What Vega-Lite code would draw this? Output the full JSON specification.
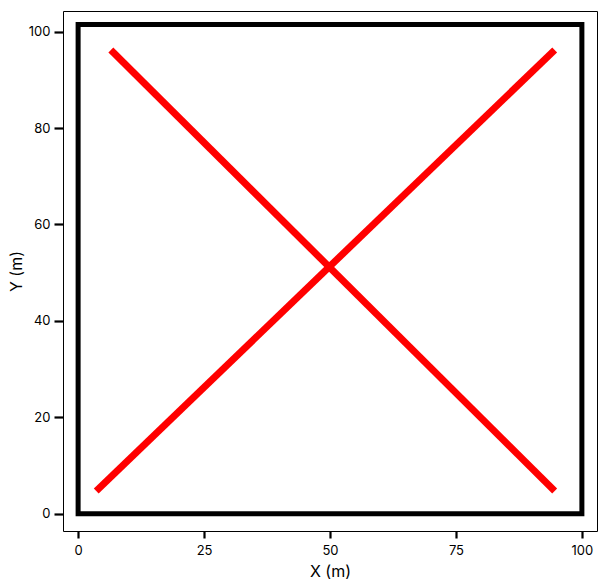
{
  "$schema": "https://vega.github.io/schema/vega-lite/v6.json",
  "width": 534,
  "height": 520,
  "autosize": "none",
  "padding": {"left": 63, "top": 11, "right": 14, "bottom": 55},
  "background": "white",
  "config": {
    "view": {"stroke": "black", "strokeWidth": 1},
    "font": "Inter",
    "axis": {
      "domain": false,
      "grid": false,
      "tickColor": "black",
      "tickWidth": 2.2,
      "labelFontSize": 13,
      "labelColor": "black",
      "titleFontSize": 16,
      "titleFontWeight": "normal",
      "titleColor": "black"
    }
  },
  "datasets": {
    "box": [
      {"x": 0, "y": 0, "o": 0},
      {"x": 100, "y": 0, "o": 1},
      {"x": 100, "y": 101.5, "o": 2},
      {"x": 0, "y": 101.5, "o": 3},
      {"x": 0, "y": 0, "o": 4}
    ],
    "lines": [
      {"line": "a", "x": 3.6, "y": 4.7, "o": 0},
      {"line": "a", "x": 94.6, "y": 96.2, "o": 1},
      {"line": "b", "x": 6.5, "y": 96.2, "o": 0},
      {"line": "b", "x": 94.6, "y": 4.7, "o": 1}
    ]
  },
  "layer": [
    {
      "data": {"name": "box"},
      "mark": {"type": "line", "color": "black", "strokeWidth": 5, "strokeCap": "square", "strokeJoin": "miter", "clip": true},
      "encoding": {
        "x": {"field": "x", "type": "quantitative", "scale": {"domain": [-3, 103], "nice": false, "zero": false}, "axis": {"values": [0, 25, 50, 75, 100], "title": "X (m)", "tickSize": 7, "labelPadding": 6, "titlePadding": 6}},
        "y": {"field": "y", "type": "quantitative", "scale": {"domain": [-3.6, 104.3], "nice": false, "zero": false}, "axis": {"values": [0, 20, 40, 60, 80, 100], "title": "Y (m)", "tickSize": 9, "labelPadding": 4, "titlePadding": 4}},
        "order": {"field": "o", "type": "quantitative"}
      }
    },
    {
      "data": {"name": "lines"},
      "mark": {"type": "line", "color": "#ff0000", "strokeWidth": 7, "strokeCap": "butt"},
      "encoding": {
        "x": {"field": "x", "type": "quantitative"},
        "y": {"field": "y", "type": "quantitative"},
        "detail": {"field": "line", "type": "nominal"},
        "order": {"field": "o", "type": "quantitative"}
      }
    }
  ]
}
